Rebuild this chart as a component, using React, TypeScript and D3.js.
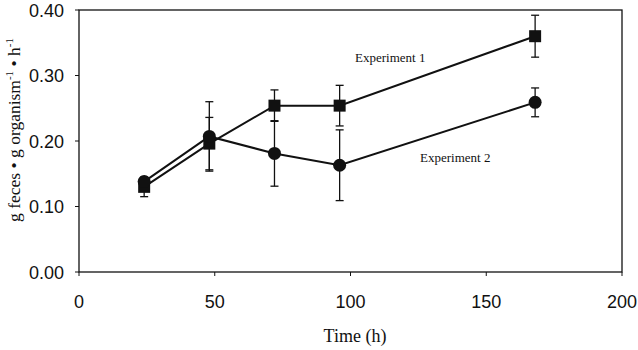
import { useEffect, useRef } from 'react'
import * as d3 from 'd3'

const times = [24, 48, 72, 96, 168]
const exp1 = [0.13, 0.196, 0.254, 0.254, 0.36]
const exp1Err = [0.015, 0.04, 0.024, 0.031, 0.032]
const exp2 = [0.138, 0.207, 0.181, 0.163, 0.259]
const exp2Err = [0.005, 0.053, 0.05, 0.054, 0.022]
const xTicks = [0, 50, 100, 150, 200]
const yTicks = [0, 0.1, 0.2, 0.3, 0.4]

const W = 638
const H = 350

export default function App() {
  const ref = useRef<SVGSVGElement>(null)

  useEffect(() => {
    if (!ref.current) return
    const svg = d3.select(ref.current)
    svg.selectAll('*').remove()

    const x = d3.scaleLinear().domain([0, 200]).range([79, 622])
    const y = d3.scaleLinear().domain([0, 0.4]).range([272, 10])
    const sans = "'Liberation Sans Narrow', 'Arial Narrow', 'Liberation Sans', sans-serif"
    const serif = "'Liberation Serif', 'Times New Roman', serif"

    // frame
    svg.append('rect')
      .attr('x', 79).attr('y', 10)
      .attr('width', 543).attr('height', 262)
      .attr('fill', 'none').attr('stroke', '#111').attr('stroke-width', 1.3)

    // ticks
    yTicks.forEach(t => {
      svg.append('line')
        .attr('x1', 75).attr('x2', 79).attr('y1', y(t)).attr('y2', y(t))
        .attr('stroke', '#111')
      svg.append('text')
        .attr('x', 64).attr('y', y(t) + 6.5)
        .attr('text-anchor', 'end')
        .attr('font-family', sans)
        .attr('font-size', 18)
        .attr('fill', '#111')
        .text(t.toFixed(2))
    })
    xTicks.forEach(t => {
      svg.append('line')
        .attr('x1', x(t)).attr('x2', x(t)).attr('y1', 272).attr('y2', 276)
        .attr('stroke', '#111')
      svg.append('text')
        .attr('x', x(t)).attr('y', 308)
        .attr('text-anchor', 'middle')
        .attr('font-family', sans)
        .attr('font-size', 18)
        .attr('fill', '#111')
        .text(String(t))
    })

    const series = [
      { vals: exp1, err: exp1Err, shape: 'square' },
      { vals: exp2, err: exp2Err, shape: 'circle' },
    ]

    const line = d3.line<number>()
      .x((_, i) => x(times[i]))
      .y(d => y(d))

    series.forEach(s => {
      // error bars
      s.vals.forEach((v, i) => {
        const cx = x(times[i])
        const g = svg.append('g').attr('stroke', '#111').attr('stroke-width', 1.3)
        g.append('line').attr('x1', cx).attr('x2', cx)
          .attr('y1', y(v - s.err[i])).attr('y2', y(v + s.err[i]))
        g.append('line').attr('x1', cx - 4).attr('x2', cx + 4)
          .attr('y1', y(v - s.err[i])).attr('y2', y(v - s.err[i]))
        g.append('line').attr('x1', cx - 4).attr('x2', cx + 4)
          .attr('y1', y(v + s.err[i])).attr('y2', y(v + s.err[i]))
      })
      svg.append('path')
        .attr('d', line(s.vals) as string)
        .attr('fill', 'none').attr('stroke', '#111').attr('stroke-width', 2)
    })

    series.forEach(s => {
      s.vals.forEach((v, i) => {
        if (s.shape === 'square') {
          svg.append('rect')
            .attr('x', x(times[i]) - 6).attr('y', y(v) - 6)
            .attr('width', 12).attr('height', 12)
            .attr('fill', '#111')
        } else {
          svg.append('circle')
            .attr('cx', x(times[i])).attr('cy', y(v)).attr('r', 6.5)
            .attr('fill', '#111')
        }
      })
    })

    svg.append('text')
      .attr('x', 355).attr('y', 62)
      .attr('font-family', serif).attr('font-size', 13).attr('fill', '#111')
      .text('Experiment 1')
    svg.append('text')
      .attr('x', 420).attr('y', 162)
      .attr('font-family', serif).attr('font-size', 13).attr('fill', '#111')
      .text('Experiment 2')

    svg.append('text')
      .attr('x', 355).attr('y', 342)
      .attr('text-anchor', 'middle')
      .attr('font-family', serif).attr('font-size', 18).attr('fill', '#111')
      .text('Time (h)')

    const yl = svg.append('text')
      .attr('transform', 'translate(20,130) rotate(-90)')
      .attr('text-anchor', 'middle')
      .attr('font-family', serif).attr('font-size', 17.5).attr('fill', '#111')
    yl.append('tspan').text('g feces • g organism')
    yl.append('tspan').attr('dy', -7).attr('font-size', 11).text('-1')
    yl.append('tspan').attr('dy', 7).text(' • h')
    yl.append('tspan').attr('dy', -7).attr('font-size', 11).text('-1')
  }, [])

  return (
    <svg ref={ref} width={W} height={H}
      style={{ position: 'absolute', left: 0, top: 0, background: '#fff', display: 'block' }} />
  )
}
